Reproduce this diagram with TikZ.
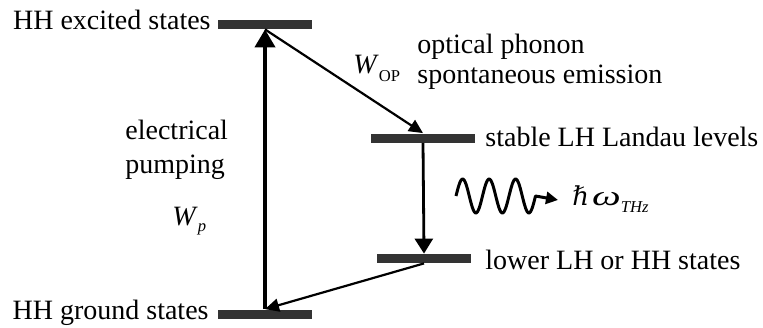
\documentclass[tikz,border=0pt]{standalone}
\usepackage{graphicx}
\usepackage{fontspec}
\setmainfont{Liberation Serif}
\newfontfamily\planckfont{DejaVu Serif}
\usetikzlibrary{arrows.meta,positioning}

\newcommand{\lowsub}[2]{\raisebox{-#1}{\fontsize{8.3}{9}\selectfont #2}}

\begin{document}
\begin{tikzpicture}[
  x=0.5pt, y=-0.5pt,
  level/.style={
    rectangle, fill=black!80, inner sep=0pt,
    minimum width=47pt, minimum height=4.5pt
  },
  lbl/.style={inner sep=0pt, font=\fontsize{14}{16}\selectfont},
  arr/.style={-{Triangle[length=7pt,width=6.5pt]}, line width=1.1pt},
  pump/.style={-{Triangle[length=9pt,width=10pt]}, line width=2pt},
  wave/.style={line width=1.5pt, line join=round},
]
\useasboundingbox (0,0) rectangle (763,327);

%% ── Levels ───────────────────────────────────────────────────────────────────
\node[level]                    (hh_ex) at (265, 24.5)  {};
\node[level, minimum width=52pt] (lh_st) at (423, 138)   {};
\node[level]                    (lh_lo) at (424, 258.5) {};
\node[level]                    (hh_gr) at (265, 314)   {};

%% ── Labels ───────────────────────────────────────────────────────────────────
\node[lbl, anchor=base east] (t_ex)  at (211, 29)  {HH excited states};
\node[lbl, anchor=base east] (t_gr)  at (209, 319) {HH ground states};
\node[lbl, anchor=base west] (t_st)  at (485, 146) {stable LH Landau levels};
\node[lbl, anchor=base west] (t_lo)  at (485, 269) {lower LH or HH states};
\node[lbl, anchor=base west] (t_op1) at (417, 53)  {optical phonon};
\node[lbl, anchor=base west] (t_op2) at (417, 83)  {spontaneous emission};
\node[lbl, anchor=base west] (t_el)  at (125, 139) {electrical};
\node[lbl, anchor=base west] (t_pu)  at (125, 173) {pumping};
\node[lbl, anchor=base west] (w_op)  at (353, 73)  {\textit{W}\lowsub{4pt}{OP}};
\node[lbl, anchor=base west] (w_p)   at (172, 225) {\textit{W}\lowsub{3pt}{\textit{p}}};
\node[lbl, anchor=base west] (thz)   at (572, 205)
  {{\planckfont\fontsize{13}{15}\selectfont ℏ}\hspace{1.5pt}\scalebox{1.45}[1]{\textit{ω}}\lowsub{3.5pt}{\textit{THz}}};

%% ── Transitions ──────────────────────────────────────────────────────────────
\draw[pump] (hh_gr.north) -- (hh_ex.south);
\draw[arr]  (hh_ex.south) -- (lh_st.north);
\draw[arr, line width=1.4pt, -{Triangle[length=7.5pt,width=9pt]}] (lh_st.south) -- (lh_lo.north);
\draw[arr]  (lh_lo.south) -- (hh_gr.north);

%% ── Emitted photon ───────────────────────────────────────────────────────────
\coordinate (ph_end) at (558, 200);
\draw[wave, -{Triangle[length=6pt,width=6pt]}]
  plot[domain=0:3, samples=90] ({456+26.5*\x}, {196-17*sin(360*\x)}) -- (ph_end);

\end{tikzpicture}
\end{document}
